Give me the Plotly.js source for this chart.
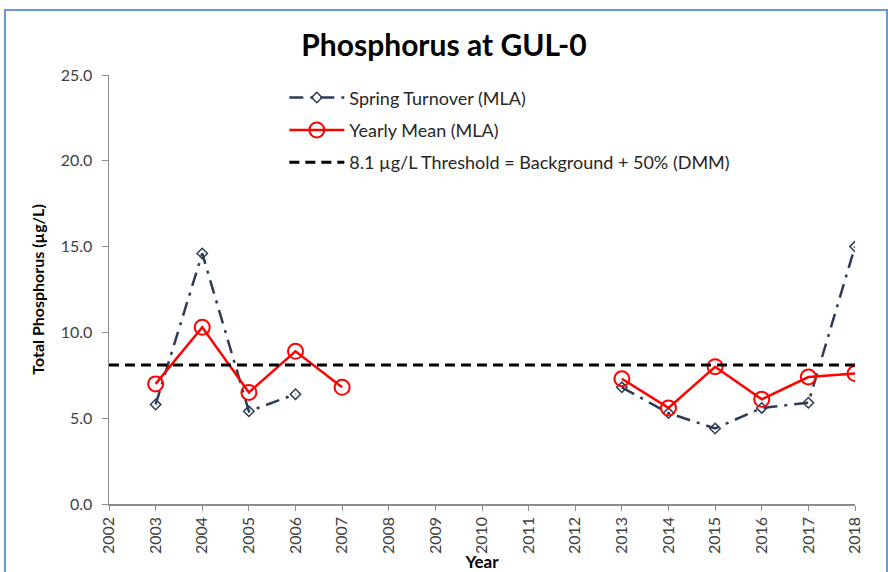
<!DOCTYPE html>
<html><head><meta charset="utf-8">
<script src="https://cdn.plot.ly/plotly-3.0.1.min.js"></script>
<style>
html,body{margin:0;padding:0;background:#fff;}
#wrap{position:relative;width:888px;height:572px;overflow:hidden;}
#chart{position:absolute;left:0;top:0;width:888px;height:572px;}
#frame{position:absolute;left:4px;top:9px;width:880px;height:600px;border:2px solid #6C97D6;pointer-events:none;z-index:5;}
</style></head>
<body>
<div id="wrap"><div id="chart"></div><div id="frame"></div></div>
<script>
const years = [2003, 2004, 2005, 2006, 2007, 2013, 2014, 2015, 2016, 2017, 2018];
const springTurnover = [5.8, 14.6, 5.4, 6.4, null, 6.8, 5.3, 4.4, 5.6, 5.9, 15.0];
const meanYears = [2003, 2004, 2005, 2006, 2007, 2008, 2013, 2014, 2015, 2016, 2017, 2018];
const yearlyMean = [7.0, 10.3, 6.5, 8.9, 6.8, null, 7.3, 5.6, 8.0, 6.1, 7.4, 7.6];
const thresholdYears = [2002, 2018];
const thresholdValue = [8.1, 8.1];
const tickYears = [2002,2003,2004,2005,2006,2007,2008,2009,2010,2011,2012,2013,2014,2015,2016,2017,2018];

const font = "Lato, 'Open Sans', sans-serif";

const traces = [
  {
    x: years, y: springTurnover, type: 'scatter', mode: 'lines+markers',
    name: 'Spring Turnover (MLA)', connectgaps: false, legendgroup: 'a',
    line: {color: '#2E3B55', width: 2.5, dash: '14px,7px,3px,7px'},
    marker: {symbol: 'diamond-open', size: 8, color: '#2E3B55', line: {width: 1.5, color: '#2E3B55'}}
  },
  {
    x: meanYears, y: yearlyMean, type: 'scatter', mode: 'lines+markers',
    name: 'Yearly Mean (MLA)', connectgaps: false, legendgroup: 'b',
    line: {color: '#FF0000', width: 2.5},
    marker: {symbol: 'circle-open', size: 15, color: '#FF0000', line: {width: 2, color: '#FF0000'}}
  },
  {
    x: thresholdYears, y: thresholdValue, type: 'scatter', mode: 'lines',
    name: '8.1 µg/L Threshold = Background + 50% (DMM)', legendgroup: 'c',
    line: {color: '#000000', width: 3, dash: '10px,6px'}
  }
];

const layout = {
  width: 888, height: 572,
  margin: {l: 109, r: 33, t: 75, b: 68},
  paper_bgcolor: '#ffffff', plot_bgcolor: '#ffffff',
  font: {family: font, color: '#404040', size: 13},
  title: {text: '<b>Phosphorus at GUL-0</b>', x: 0.5, xref: 'container', y: 0.921, yref: 'container', yanchor: 'middle',
          font: {family: font, size: 30, color: '#000000'}},
  showlegend: true,
  legend: {x: 0.235, y: 0.99, xanchor: 'left', yanchor: 'top', bgcolor: 'rgba(0,0,0,0)', itemwidth: 55,
           font: {family: font, size: 18, color: '#262626'}, traceorder: 'grouped', tracegroupgap: 6},
  xaxis: {
    range: [2002, 2018], tickmode: 'array', tickvals: tickYears, ticktext: tickYears.map(String),
    tickangle: -90, showgrid: false, zeroline: false, showline: true, linecolor: '#8C8C8C', linewidth: 1.5,
    ticks: 'outside', ticklen: 5, tickcolor: '#8C8C8C', tickfont: {family: font, size: 16, color: '#404040'},
    title: {text: '<b>Year</b>', font: {family: font, size: 17, color: '#000000'}, standoff: 2}
  },
  yaxis: {
    range: [0, 25], tickmode: 'linear', tick0: 0, dtick: 5, tickformat: '.1f',
    showgrid: false, zeroline: false, showline: true, linecolor: '#8C8C8C', linewidth: 1.5,
    ticks: 'outside', ticklen: 6, tickcolor: '#8C8C8C', ticklabelstandoff: 6,
    tickfont: {family: font, size: 16, color: '#404040'},
    title: {text: '<b>Total Phosphorus (µg/L)</b>', font: {family: font, size: 16, color: '#000000'}, standoff: 12}
  }
};

Plotly.newPlot('chart', traces, layout, {displayModeBar: false, staticPlot: true});
</script>
</body></html>
